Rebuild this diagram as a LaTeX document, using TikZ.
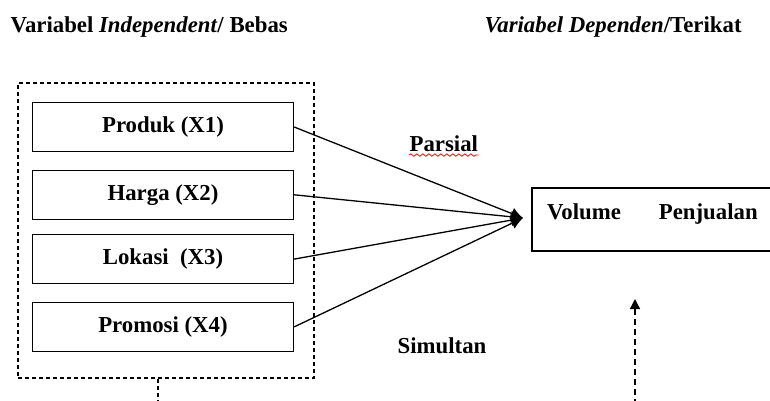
\documentclass[tikz,border=0pt,11pt]{standalone}
\usepackage{fontspec}
\setmainfont{Liberation Serif}
\usetikzlibrary{arrows.meta,positioning,decorations.pathmorphing}

\begin{document}
\begin{tikzpicture}[x=0.5pt, y=-0.5pt, line width=0.65pt, every node/.style={font=\fontsize{11.4}{13.7}\selectfont\bfseries},
    varbox/.style={draw, minimum width=130.5pt, minimum height=24.5pt, inner sep=0pt},
    teks/.style={anchor=base west, inner sep=0pt}]
    \useasboundingbox (0,0) rectangle (770,401);
    \node[teks] (judulx) at (10,33) {Variabel \textit{Independent}/ Bebas};
    \node[teks] (juduly) at (484,33) {\textit{Variabel Dependen}/Terikat};
    \node[draw, dash pattern=on 2pt off 1.5pt, minimum width=148pt, minimum height=147.5pt, inner sep=0pt] (bebas) at (166,230.5) {};
    \node[varbox] (x1) at (163,127) {Produk (X1)};
    \node[varbox, below=8.75pt of x1] (x2) {Harga (X2)};
    \node[varbox, below=7pt of x2] (x3) {Lokasi\ \ (X3)};
    \node[varbox, below=8.75pt of x3] (x4) {Promosi (X4)};
    \node[draw, minimum width=120pt, minimum height=31.5pt, inner sep=0pt] (terikat) at (652,219.5) {};
    \node[teks] (volume) at ([xshift=7.5pt]terikat.west) {Volume\hspace{19pt}Penjualan};
    \node[teks] (parsial) at (409,151) {Parsial};
    \draw[red, line width=0.4pt, decorate, decoration={snake, amplitude=0.6pt, segment length=3pt}]
        ([yshift=-1.6pt]parsial.south west) -- ([yshift=-1.6pt]parsial.south east);
    \node[teks] (simultan) at (397,353) {Simultan};
    \coordinate (temu) at (523,218);
    \draw[-{Latex[length=6pt,width=6pt]}] (x1.east) -- (temu);
    \draw[-{Latex[length=6pt,width=6pt]}] (x2.east) -- (temu);
    \draw[-{Latex[length=6pt,width=6pt]}] (x3.east) -- (temu);
    \draw[-{Latex[length=6pt,width=6pt]}] (x4.east) -- (temu);
    \coordinate (bawahx) at (158,405);
    \draw[dash pattern=on 2pt off 1.5pt] (bawahx |- bebas.south) -- (bawahx);
    \coordinate (bawahy) at (635,405);
    \coordinate (ujung) at (635,299);
    \draw[dash pattern=on 3pt off 2pt, -{Triangle[length=5pt,width=5pt]}] (bawahy) -- (ujung);
\end{tikzpicture}
\end{document}
